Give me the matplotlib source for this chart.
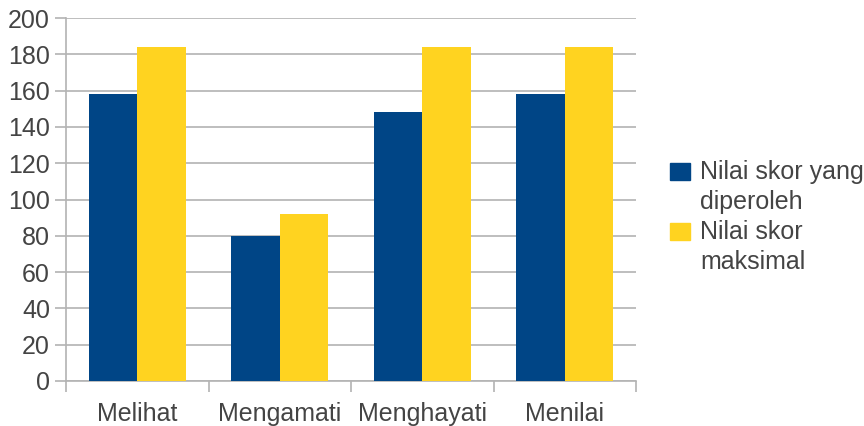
import matplotlib.pyplot as plt
from matplotlib.patches import Rectangle
import numpy as np

plt.rcParams['font.family'] = ['Liberation Sans', 'DejaVu Sans']

categories = ['Melihat', 'Mengamati', 'Menghayati', 'Menilai']
skor_diperoleh = [158, 80, 148, 158]
skor_maksimal = [184, 92, 184, 184]
series_labels = ['Nilai skor yang\ndiperoleh', 'Nilai skor\nmaksimal']
series_colors = ['#004586', '#ffd320']
y_ticks = list(range(0, 201, 20))

text_color = '#444444'
grid_color = '#b3b3b3'
W, H = 864, 426

fig = plt.figure(figsize=(W / 100, H / 100), dpi=100)
ax = fig.add_axes([66 / W, 45 / H, 570 / W, 363 / H])

x = np.arange(len(categories))
w = 0.34
ax.bar(x - w / 2, skor_diperoleh, w, color=series_colors[0], zorder=3)
ax.bar(x + w / 2, skor_maksimal, w, color=series_colors[1], zorder=3)

ax.set_xlim(-0.5, len(categories) - 0.5)
ax.set_ylim(0, 200)
ax.set_yticks(y_ticks)
ax.set_yticklabels([str(v) for v in y_ticks], fontsize=18, color=text_color)
ax.yaxis.grid(True, color=grid_color, linewidth=1.2, zorder=0)

ax.set_xticks(x)
ax.set_xticklabels(categories, fontsize=18, color=text_color)
ax.set_xticks(np.arange(-0.5, len(categories)), minor=True)
ax.tick_params(axis='x', which='major', length=0, pad=15)
ax.tick_params(axis='x', which='minor', length=8, color=grid_color, width=1.2)
ax.tick_params(axis='y', length=8, color=grid_color, width=1.2, pad=3.5)

for s in ['top', 'right']:
    ax.spines[s].set_visible(False)
for s in ['left', 'bottom']:
    ax.spines[s].set_color(grid_color)
    ax.spines[s].set_linewidth(1.2)

# legend drawn by hand: squares aligned with the first text line
legend_tops = [163, 223]
for top, label, color in zip(legend_tops, series_labels, series_colors):
    fig.patches.append(Rectangle((670 / W, 1 - (top + 17) / H), 20 / W, 17 / H,
                                 transform=fig.transFigure, color=color))
    fig.text(700 / W, 1 - (top - 3) / H, label, fontsize=18, color=text_color,
             va='top', ha='left', linespacing=1.33)

fig.savefig('out.png', dpi=100)
